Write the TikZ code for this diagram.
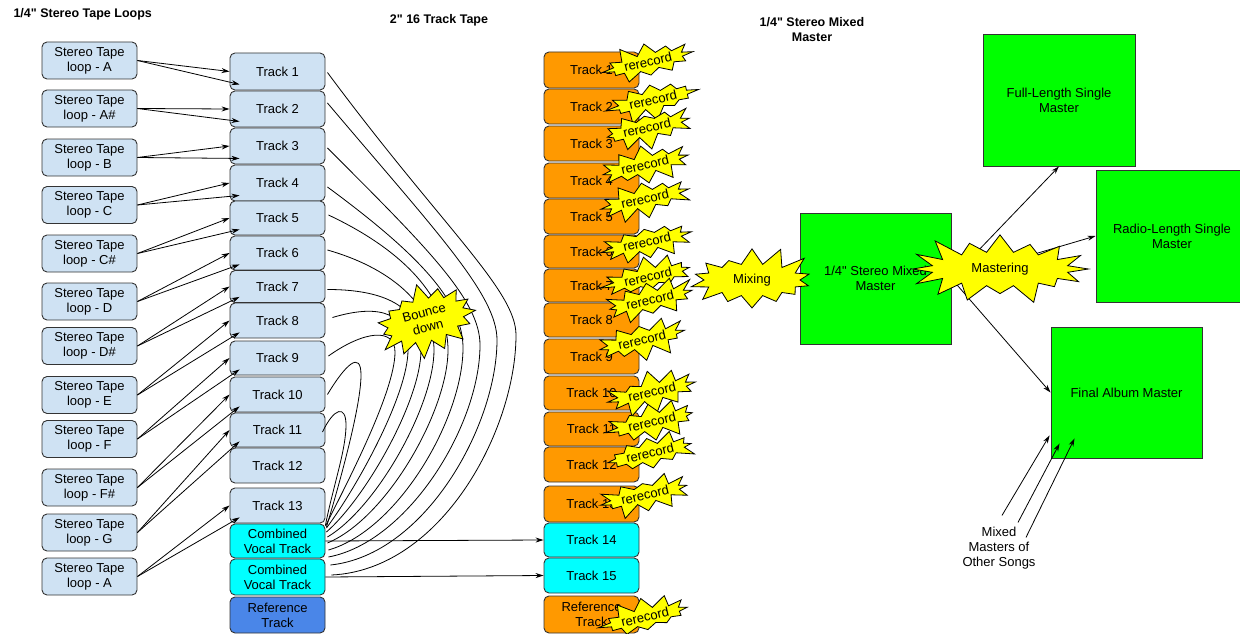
\documentclass[tikz,border=0pt]{standalone}
\usepackage{fontspec}
\setmainfont{Liberation Sans}
\usetikzlibrary{shapes.symbols,arrows.meta,calc}
\definecolor{lblue}{HTML}{CFE2F3}
\definecolor{cyanb}{HTML}{00FFFF}
\definecolor{refblue}{HTML}{4A86E8}
\definecolor{orangeb}{HTML}{FF9900}
\definecolor{greenb}{HTML}{00FF00}
\definecolor{yellowb}{HTML}{FFFF00}
\definecolor{edgec}{HTML}{333333}
\newcommand\fs{\fontsize{13}{15}\selectfont}
\newcommand\hfs{\fontsize{12.5}{15}\selectfont\bfseries}
\newcommand\dq{\XeTeXglyph\numexpr\XeTeXcharglyph34\relax}
\begin{document}
\begin{tikzpicture}[x=1pt,y=-1pt,
  box/.style={draw=edgec, line width=0.9pt, rounded corners=5pt, minimum width=95pt, align=center, inner sep=1pt, font=\fs, text=black},
  loopbox/.style={box, fill=lblue, minimum height=37pt},
  trbox/.style={box, fill=lblue},
  orbox/.style={box, fill=orangeb},
  cybox/.style={box, fill=cyanb},
  refbox/.style={box, fill=refblue},
  gbox/.style={draw=edgec, line width=0.9pt, fill=greenb, font=\fs, align=center, minimum width=151pt, minimum height=131pt, inner sep=2pt},
  arr/.style={-{Stealth[length=8pt,width=5pt]}, line width=0.8pt},
  curve/.style={line width=0.8pt},
  burst/.style={starburst, draw=black, fill=yellowb, line width=0.8pt, font=\fs, inner sep=0pt, align=center},
  rer/.style={burst, rotate=13, minimum width=100pt, minimum height=44pt, starburst points=12, starburst point height=14pt},
  hdr/.style={font=\hfs, align=center}
]
\useasboundingbox (0,0) rectangle (1240,634);

% headers
\node[hdr, anchor=west] (h1) at (10,14) {1/4\dq{} Stereo Tape Loops};
\node[hdr] (h2) at (439,20) {2\dq{} 16 Track Tape};
\node[hdr] (h3) at (812,30) {1/4\dq{} Stereo Mixed\\Master};

% loops
\node[loopbox] (lA)  at (89.5,60.5) {Stereo Tape\\loop - A};
\node[loopbox] (lAs) at (89.5,108.5) {Stereo Tape\\loop - A\#};
\node[loopbox] (lB)  at (89.5,157.5) {Stereo Tape\\loop - B};
\node[loopbox] (lC)  at (89.5,205) {Stereo Tape\\loop - C};
\node[loopbox] (lCs) at (89.5,253.5) {Stereo Tape\\loop - C\#};
\node[loopbox] (lD)  at (89.5,301.5) {Stereo Tape\\loop - D};
\node[loopbox] (lDs) at (89.5,346) {Stereo Tape\\loop - D\#};
\node[loopbox] (lE)  at (89.5,395) {Stereo Tape\\loop - E};
\node[loopbox] (lF)  at (89.5,439) {Stereo Tape\\loop - F};
\node[loopbox] (lFs) at (89.5,487.5) {Stereo Tape\\loop - F\#};
\node[loopbox] (lG)  at (89.5,532.5) {Stereo Tape\\loop - G};
\node[loopbox] (lA2) at (89.5,576.5) {Stereo Tape\\loop - A};

% 16 track (left)
\node[trbox, minimum height=37pt] (t1) at (277.5,71.5) {Track 1};
\node[trbox, minimum height=36pt] (t2) at (277.5,109) {Track 2};
\node[trbox, minimum height=36pt] (t3) at (277.5,146) {Track 3};
\node[trbox, minimum height=36pt] (t4) at (277.5,183) {Track 4};
\node[trbox, minimum height=34pt] (t5) at (277.5,218) {Track 5};
\node[trbox, minimum height=34pt] (t6) at (277.5,253) {Track 6};
\node[trbox, minimum height=32pt] (t7) at (277.5,286.5) {Track 7};
\node[trbox, minimum height=35pt] (t8) at (277.5,320.5) {Track 8};
\node[trbox, minimum height=34pt] (t9) at (277.5,358) {Track 9};
\node[trbox, minimum height=35pt] (t10) at (277.5,394.5) {Track 10};
\node[trbox, minimum height=34pt] (t11) at (277.5,430) {Track 11};
\node[trbox, minimum height=35pt] (t12) at (277.5,465.5) {Track 12};
\node[trbox, minimum height=35pt] (t13) at (277.5,505.5) {Track 13};
\node[cybox, minimum height=34pt] (cv1) at (277.5,541) {Combined\\Vocal Track};
\node[cybox, minimum height=36pt] (cv2) at (277.5,577) {Combined\\Vocal Track};
\node[refbox, minimum height=36pt] (rf) at (277.5,615) {Reference\\Track};

% 16 track (right)
\node[orbox, minimum height=36pt] (o1) at (591.5,70) {Track 1};
\node[orbox, minimum height=35pt] (o2) at (591.5,106.5) {Track 2};
\node[orbox, minimum height=35pt] (o3) at (591.5,143.5) {Track 3};
\node[orbox, minimum height=35pt] (o4) at (591.5,180.5) {Track 4};
\node[orbox, minimum height=35pt] (o5) at (591.5,216.5) {Track 5};
\node[orbox, minimum height=33pt] (o6) at (591.5,251.5) {Track 6};
\node[orbox, minimum height=33pt] (o7) at (591.5,285.5) {Track 7};
\node[orbox, minimum height=34pt] (o8) at (591.5,320) {Track 8};
\node[orbox, minimum height=35pt] (o9) at (591.5,356.5) {Track 9};
\node[orbox, minimum height=34pt] (o10) at (591.5,393) {Track 10};
\node[orbox, minimum height=34pt] (o11) at (591.5,429) {Track 11};
\node[orbox, minimum height=35pt] (o12) at (591.5,464.5) {Track 12};
\node[orbox, minimum height=36pt] (o13) at (591.5,504) {Track 13};
\node[cybox, minimum height=34pt] (o14) at (591.5,540) {Track 14};
\node[cybox, minimum height=35pt] (o15) at (591.5,575.5) {Track 15};
\node[orbox, minimum height=37pt] (oref) at (591.5,614.5) {Reference\\Track};

% green boxes
\node[gbox] (mm) at (875.5,278.5) {1/4\dq{} Stereo Mixed\\Master};
\node[gbox, minimum width=152pt, minimum height=132pt] (fl) at (1059,100) {Full-Length Single\\Master};
\node[gbox, minimum width=152pt, minimum height=132pt] (rl) at (1172,236) {Radio-Length Single\\Master};
\node[gbox] (fa) at (1126.5,392.5) {Final Album Master};
\node[font=\fs, align=center] (mo) at (999,548) {Mixed\\Masters of\\Other Songs};

% loop arrows
\foreach \l/\t in {lA/t1, lAs/t2, lB/t3, lC/t4, lCs/t5, lD/t6, lDs/t7, lE/t8, lF/t9, lFs/t10, lG/t11, lA2/t13} {
  \draw[arr] (\l.east) -- (\t.west);
  \draw[arr] (\l.east) -- ($(\t.south west)+(10,-6)$);
}

% bounce-down curves
\coordinate (m1) at (516,335);
\coordinate (m2) at (497,340);
\coordinate (m3) at (480,345);
\coordinate (m4) at (463,348);
\coordinate (m5) at (448,350);
\coordinate (m6) at (434,350);
\coordinate (m7) at (421,350);
\coordinate (m8) at (408,350);
\coordinate (m9) at (395,352);
\coordinate (m10) at (361,375);
\coordinate (m11) at (346,425);
\draw[curve] ($(t1.east)+(2,1)$) .. controls +(115,155) and +(0,-45) .. (m1) .. controls +(0,95) and +(110,-5) .. ($(cv2.east)+(6,-2)$);
\draw[curve] ($(t2.east)+(2,-6)$) .. controls +(110,130) and +(0,-45) .. (m2) .. controls +(0,85) and +(95,-10) .. ($(cv2.east)+(5,-12)$);
\draw[curve] ($(t3.east)+(2,2)$) .. controls +(100,100) and +(0,-45) .. (m3) .. controls +(0,80) and +(80,-15) .. ($(cv2.east)+(3,-20)$);
\draw[curve] ($(t4.east)+(2,4)$) .. controls +(95,70) and +(0,-45) .. (m4) .. controls +(0,70) and +(70,-20) .. ($(cv1.east)+(3,9)$);
\draw[curve] ($(t5.east)+(3,-3)$) .. controls +(85,40) and +(0,-45) .. (m5) .. controls +(0,60) and +(60,-25) .. ($(cv1.east)+(2,2)$);
\draw[curve] ($(t6.east)+(2,-3)$) .. controls +(70,20) and +(0,-40) .. (m6) .. controls +(0,55) and +(50,-30) .. ($(cv1.east)+(2,-4)$);
\draw[curve] ($(t7.east)+(2,3)$) .. controls +(70,0) and +(0,-35) .. (m7) .. controls +(0,50) and +(40,-35) .. ($(cv1.east)+(1,-9)$);
\draw[curve] ($(t8.east)+(7,-3)$) .. controls +(50,-15) and +(0,-35) .. (m8) .. controls +(0,45) and +(30,-40) .. ($(cv1.east)+(1,-13)$);
\draw[curve] ($(t9.east)+(3,-2)$) .. controls +(35,-25) and +(0,-25) .. (m9) .. controls +(0,40) and +(20,-40) .. ($(cv1.east)+(0,-15)$);
\draw[curve] ($(t10.east)+(2,0)$) .. controls +(18,-30) and +(0,-25) .. (m10) .. controls +(0,30) and +(15,-50) .. ($(cv1.east)+(1,-14)$);
\draw[curve] ($(t11.east)+(-3,2)$) .. controls +(12,-25) and +(0,-20) .. (m11) .. controls +(0,25) and +(8,-40) .. ($(cv1.east)+(0,-16)$);

% combined to track 14/15
\draw[arr] (cv1.east) -- (o14.west);
\draw[arr] (cv2.east) -- (o15.west);

% mastering arrows
\draw[arr] (mm.east) -- (fl.south);
\draw[arr] (mm.east) -- (rl.west);
\draw[arr] (mm.east) -- (fa.west);

% other songs
\draw[arr] ($(mo.north)+(3,-8)$) -- ($(fa.south west)+(-1,-23)$);
\draw[arr] ($(mo.north)+(19,-1)$) -- ($(fa.south west)+(9,-15)$);
\draw[arr] ($(mo.north)+(27,14)$) -- ($(fa.south west)+(24,-20)$);

% bursts
\node[burst, rotate=15, minimum width=112pt, minimum height=76pt, starburst points=15, starburst point height=17pt, random starburst=7] (bd) at (426,320) {Bounce\\down};
\node[rer, random starburst=11] (r1) at (648,62) {rerecord};
\node[rer, random starburst=12] (r2) at (653,100) {rerecord};
\node[rer, random starburst=13] (r3) at (647,128) {rerecord};
\node[rer, random starburst=14] (r4) at (645,165) {rerecord};
\node[rer, random starburst=15] (r5) at (645,199) {rerecord};
\node[rer, random starburst=16] (r6) at (647,242) {rerecord};
\node[rer, random starburst=17] (r7) at (648,277) {rerecord};
\node[rer, random starburst=18] (r8) at (650,300) {rerecord};
\node[rer, random starburst=19] (r9) at (642,340) {rerecord};
\node[rer, random starburst=20] (r10) at (652,392) {rerecord};
\node[rer, random starburst=21] (r11) at (652,422) {rerecord};
\node[rer, random starburst=22] (r12) at (650,453) {rerecord};
\node[rer, random starburst=23] (r13) at (645,495) {rerecord};
\node[rer, random starburst=24] (r14) at (645,617) {rerecord};
\node[burst, minimum width=140pt, minimum height=76pt, starburst points=14, starburst point height=22pt, random starburst=31] (mx) at (752,280) {Mixing};
\node[burst, minimum width=190pt, minimum height=86pt, starburst points=16, starburst point height=26pt, random starburst=41] (ms) at (1000,269) {Mastering};
\end{tikzpicture}
\end{document}
